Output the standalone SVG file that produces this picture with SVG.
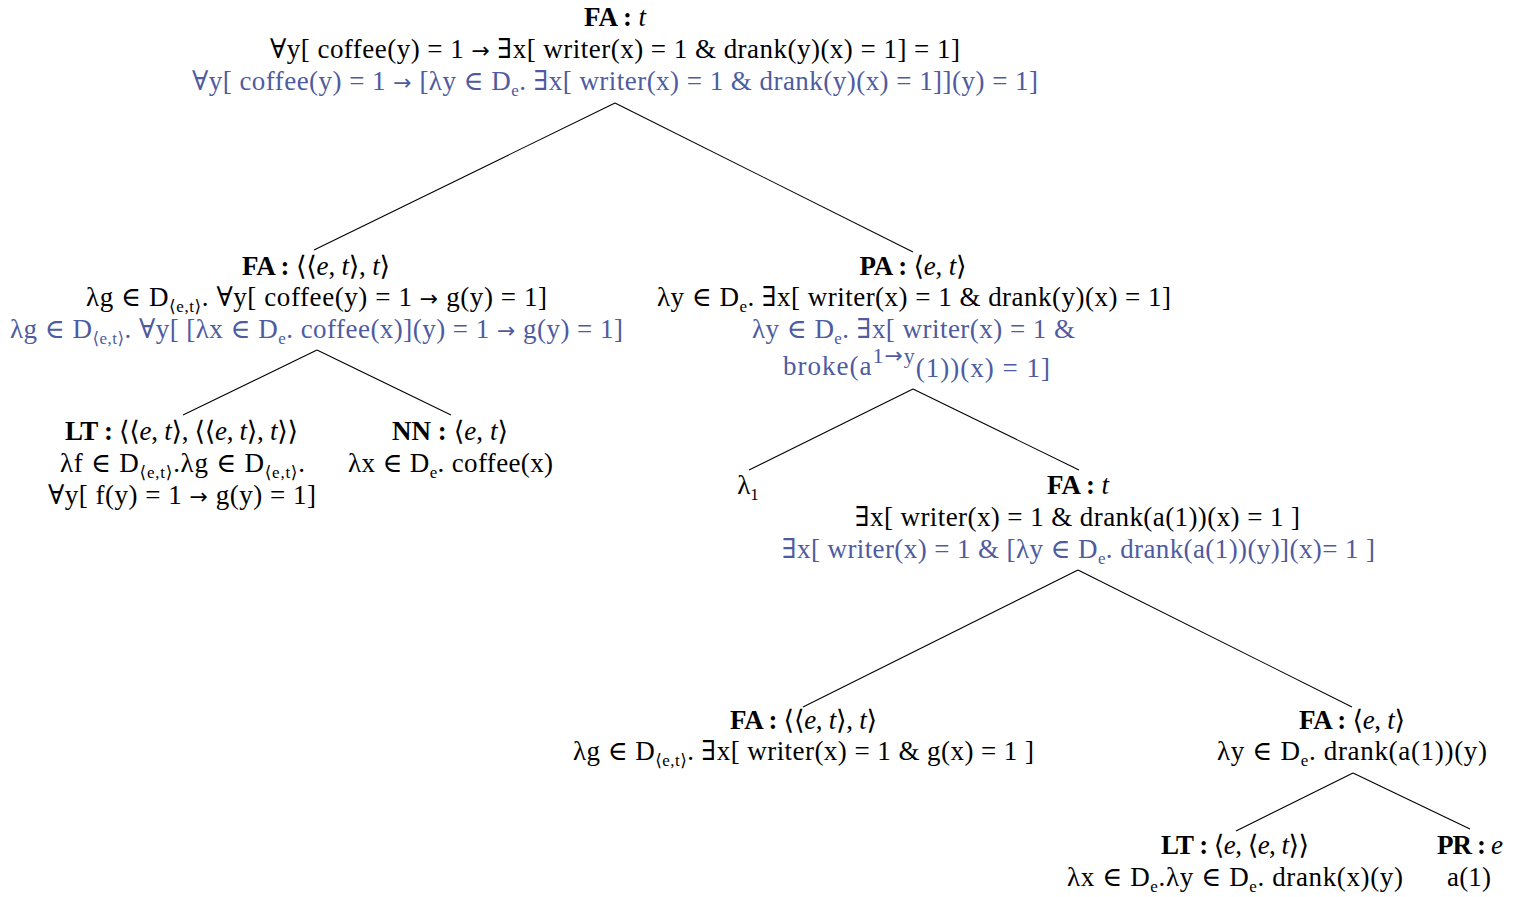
<svg xmlns="http://www.w3.org/2000/svg" width="1521" height="897" viewBox="0 0 1521 897">
<style>
text{font-family:"Liberation Serif","DejaVu Serif",serif;font-size:27px;fill:#000;text-anchor:middle}
.bl{fill:#4E5BA0}
.b{font-weight:bold}
.i{font-style:italic}
.s{font-size:17px}
.sp{font-size:22px}
.a{font-family:"DejaVu Sans",sans-serif;font-size:22px}
line{stroke:#000;stroke-width:1.1}
</style>
<rect width="1521" height="897" fill="#fff"/>
<g id="connectors">
<line x1="615" y1="103" x2="314" y2="250"/>
<line x1="615" y1="103" x2="913" y2="252"/>
<line x1="317" y1="350" x2="183" y2="415"/>
<line x1="317" y1="350" x2="451" y2="415"/>
<line x1="913" y1="389" x2="749" y2="470"/>
<line x1="913" y1="389" x2="1079" y2="470"/>
<line x1="1078" y1="570" x2="803" y2="707"/>
<line x1="1078" y1="570" x2="1352" y2="707"/>
<line x1="1353" y1="773" x2="1236" y2="831"/>
<line x1="1353" y1="773" x2="1470" y2="829"/>
</g>
<g id="root">
<text x="615" y="26" textLength="62"><tspan class="b">FA :</tspan> <tspan class="i">t</tspan></text>
<text x="615" y="58" textLength="690">∀y[ coffee(y) = 1 <tspan class="a">→</tspan> ∃x[ writer(x) = 1 &amp; drank(y)(x) = 1] = 1]</text>
<text class="bl" x="615" y="90" textLength="846">∀y[ coffee(y) = 1 <tspan class="a">→</tspan> [λy ∈ D<tspan class="s" dy="6">e</tspan><tspan dy="-6">. ∃x[ writer(x) = 1 &amp; drank(y)(x) = 1]](y) = 1]</tspan></text>
</g>
<g id="fa-left">
<text x="316" y="275" textLength="148"><tspan class="b">FA :</tspan> ⟨⟨<tspan class="i">e</tspan>, <tspan class="i">t</tspan>⟩, <tspan class="i">t</tspan>⟩</text>
<text x="316.5" y="306" textLength="461">λg ∈ D<tspan class="s" dy="6">⟨e,t⟩</tspan><tspan dy="-6">. ∀y[ coffee(y) = 1 </tspan><tspan class="a">→</tspan> g(y) = 1]</text>
<text class="bl" x="316.5" y="338" textLength="613">λg ∈ D<tspan class="s" dy="6">⟨e,t⟩</tspan><tspan dy="-6">. ∀y[ [λx ∈ D</tspan><tspan class="s" dy="6">e</tspan><tspan dy="-6">. coffee(x)](y) = 1 </tspan><tspan class="a">→</tspan> g(y) = 1]</text>
</g>
<g id="pa">
<text x="913" y="275" textLength="107"><tspan class="b">PA :</tspan> ⟨<tspan class="i">e</tspan>, <tspan class="i">t</tspan>⟩</text>
<text x="914" y="306" textLength="514">λy ∈ D<tspan class="s" dy="6">e</tspan><tspan dy="-6">. ∃x[ writer(x) = 1 &amp; drank(y)(x) = 1]</tspan></text>
<text class="bl" x="913.5" y="338" textLength="323">λy ∈ D<tspan class="s" dy="6">e</tspan><tspan dy="-6">. ∃x[ writer(x) = 1 &amp;</tspan></text>
<text class="bl" x="916.5" y="375" textLength="267">broke(a<tspan class="sp" dy="-12">1</tspan><tspan class="a">→</tspan><tspan class="sp">y</tspan><tspan dy="14">(1))(x) = 1]</tspan></text>
</g>
<g id="lt-left">
<text x="181.5" y="440" textLength="233"><tspan class="b">LT :</tspan> ⟨⟨<tspan class="i">e</tspan>, <tspan class="i">t</tspan>⟩, ⟨⟨<tspan class="i">e</tspan>, <tspan class="i">t</tspan>⟩, <tspan class="i">t</tspan>⟩⟩</text>
<text x="182.5" y="472" textLength="245">λf ∈ D<tspan class="s" dy="6">⟨e,t⟩</tspan><tspan dy="-6">.λg ∈ D</tspan><tspan class="s" dy="6">⟨e,t⟩</tspan><tspan dy="-6">.</tspan></text>
<text x="182" y="504" textLength="268">∀y[ f(y) = 1 <tspan class="a">→</tspan> g(y) = 1]</text>
</g>
<g id="nn">
<text x="450" y="440" textLength="116"><tspan class="b">NN :</tspan> ⟨<tspan class="i">e</tspan>, <tspan class="i">t</tspan>⟩</text>
<text x="450.5" y="472" textLength="205">λx ∈ D<tspan class="s" dy="6">e</tspan><tspan dy="-6">. coffee(x)</tspan></text>
</g>
<g id="lambda1">
<text x="748" y="494">λ<tspan class="s" dy="6">1</tspan></text>
</g>
<g id="fa-t">
<text x="1078" y="494" textLength="62"><tspan class="b">FA :</tspan> <tspan class="i">t</tspan></text>
<text x="1077.5" y="526" textLength="445">∃x[ writer(x) = 1 &amp; drank(a(1))(x) = 1 ]</text>
<text class="bl" x="1078.5" y="558" textLength="593">∃x[ writer(x) = 1 &amp; [λy ∈ D<tspan class="s" dy="6">e</tspan><tspan dy="-6">. drank(a(1))(y)](x)= 1 ]</tspan></text>
</g>
<g id="fa-low-left">
<text x="803.5" y="729" textLength="147"><tspan class="b">FA :</tspan> ⟨⟨<tspan class="i">e</tspan>, <tspan class="i">t</tspan>⟩, <tspan class="i">t</tspan>⟩</text>
<text x="803.5" y="760" textLength="461">λg ∈ D<tspan class="s" dy="6">⟨e,t⟩</tspan><tspan dy="-6">. ∃x[ writer(x) = 1 &amp; g(x) = 1 ]</tspan></text>
</g>
<g id="fa-et">
<text x="1352" y="729" textLength="106"><tspan class="b">FA :</tspan> ⟨<tspan class="i">e</tspan>, <tspan class="i">t</tspan>⟩</text>
<text x="1352" y="760" textLength="270">λy ∈ D<tspan class="s" dy="6">e</tspan><tspan dy="-6">. drank(a(1))(y)</tspan></text>
</g>
<g id="lt-low">
<text x="1235" y="854" textLength="148"><tspan class="b">LT :</tspan> ⟨<tspan class="i">e</tspan>, ⟨<tspan class="i">e</tspan>, <tspan class="i">t</tspan>⟩⟩</text>
<text x="1235" y="886" textLength="336">λx ∈ D<tspan class="s" dy="6">e</tspan><tspan dy="-6">.λy ∈ D</tspan><tspan class="s" dy="6">e</tspan><tspan dy="-6">. drank(x)(y)</tspan></text>
</g>
<g id="pr">
<text x="1470" y="854" textLength="66"><tspan class="b">PR :</tspan> <tspan class="i">e</tspan></text>
<text x="1469" y="886" textLength="44">a(1)</text>
</g>
</svg>
